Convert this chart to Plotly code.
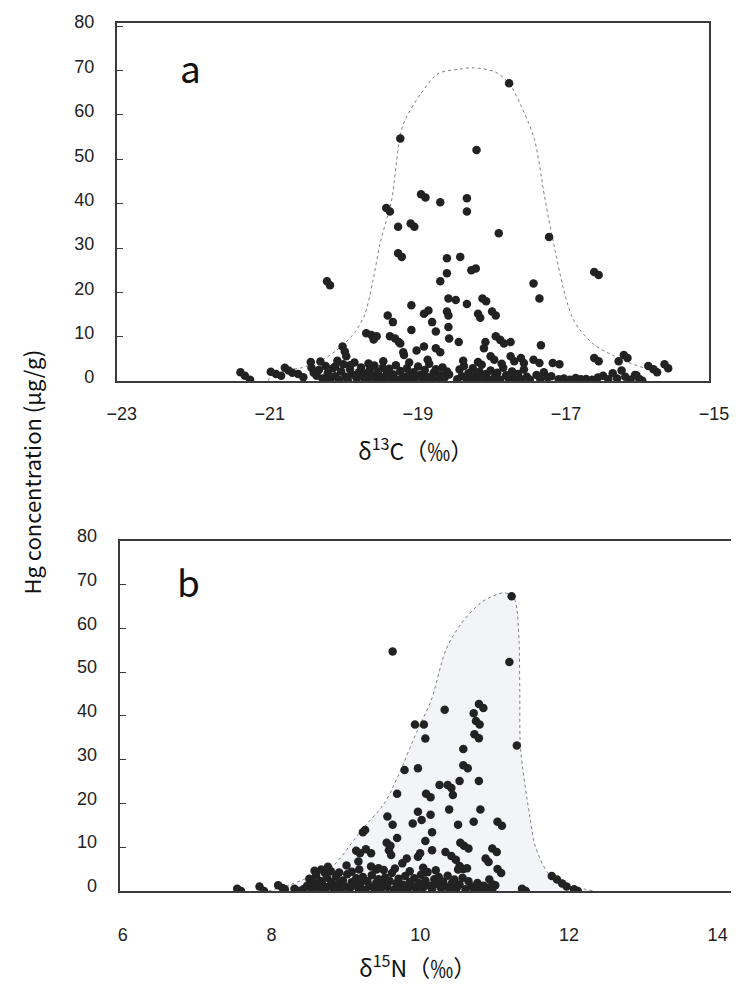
import plotly.graph_objects as go

# page body has an 8px default margin; build the figure to fill the rest
OFF = 8
W, H = 751 - OFF, 986 - OFF


def px(t):
    return (t - OFF) / W


def py(t):
    return 1 - (t - OFF) / H


# ---------------- Panel a: d13C vs Hg ----------------
a_x = [
    -17.70, -19.17, -18.14, -18.89, -18.83, -18.63, -18.27, -18.27, -19.36, -19.31,
    -19.20, -19.03, -18.98, -17.84, -17.16, -19.20, -19.15, -18.54, -18.36, -18.21,
    -18.15, -18.54, -18.63, -20.16, -20.12, -17.37, -16.55, -16.49, -17.29, -18.52,
    -18.42, -18.27, -18.06, -18.01, -19.02, -18.85, -18.79, -18.54, -18.52, -18.12,
    -18.09, -17.93, -17.88, -19.34, -19.27, -18.74, -18.52, -19.02, -18.69, -19.63,
    -19.56, -19.53, -19.49, -19.31, -19.24, -19.19, -19.17, -18.51, -18.38, -17.88,
    -17.82, -17.77, -17.68, -18.02, -18.04, -17.27, -18.85, -18.95, -19.95, -19.92,
    -19.90, -19.13, -19.12, -18.69, -18.63, -17.95, -17.90, -17.68, -17.63, -17.54,
    -17.50, -17.37, -17.29, -17.11, -17.02, -16.55, -16.49, -16.15, -16.10, -16.22,
    -15.82, -15.75, -15.70, -15.60, -15.55,
    -21.33, -21.27, -21.20, -20.92, -20.85, -20.78, -20.73, -20.68, -20.63, -20.55,
    -20.48, -20.38, -20.37, -20.34,
    -20.30, -20.27, -20.22, -20.18, -20.15, -20.12, -20.08, -20.05, -20.02, -20.00,
    -19.97, -19.94, -19.91, -19.88, -19.85, -19.82, -19.79, -19.76, -19.73, -19.70,
    -19.67, -19.64, -19.61, -19.58, -19.55, -19.52, -19.50,
    -19.47, -19.44, -19.41, -19.38, -19.35, -19.32, -19.29, -19.26, -19.23, -19.20,
    -19.17, -19.14, -19.11, -19.08, -19.05, -19.02,
    -18.99, -18.96, -18.93, -18.90, -18.87, -18.84, -18.81, -18.78, -18.75, -18.72,
    -18.69, -18.66, -18.63, -18.60, -18.57, -18.54, -18.51,
    -18.40, -18.37, -18.34, -18.31, -18.28, -18.25, -18.22, -18.19, -18.16, -18.13,
    -18.10, -18.07, -18.04, -18.01, -17.98, -17.95,
    -17.90, -17.86, -17.82, -17.78, -17.74, -17.70, -17.66, -17.62, -17.58, -17.54,
    -17.50, -17.46, -17.42,
    -17.33, -17.28, -17.23, -17.18, -17.13,
    -17.03, -16.96, -16.88, -16.80, -16.73, -16.66, -16.58, -16.50, -16.43, -16.36,
    -16.30, -16.24, -16.18, -16.13, -16.06, -16.00, -15.94,
    -20.25, -20.05, -19.85, -19.60, -19.40, -19.05, -18.80, -18.32, -18.12, -17.80,
    -15.98, -15.90,
]
a_y = [
    67.1, 54.7, 52.1, 42.1, 41.4, 40.3, 41.2, 38.2, 39.0, 38.2,
    34.8, 35.5, 34.8, 33.3, 32.5, 28.8, 28.0, 27.7, 28.0, 25.0,
    25.4, 24.3, 22.5, 22.5, 21.6, 22.0, 24.6, 23.9, 18.6, 18.6,
    18.3, 17.4, 18.6, 18.0, 17.1, 15.2, 15.9, 15.7, 14.8, 15.2,
    14.3, 15.7, 14.8, 14.8, 13.3, 13.3, 12.2, 11.5, 11.2, 10.8,
    10.4, 9.4, 10.1, 10.1, 9.6, 8.8, 8.5, 9.6, 8.8, 10.1,
    9.3, 8.5, 8.8, 8.8, 7.4, 8.1, 7.8, 6.9, 7.8, 6.7,
    5.6, 6.5, 5.9, 7.4, 6.5, 5.6, 4.8, 5.6, 4.5, 5.2,
    4.1, 4.8, 4.1, 4.1, 3.8, 5.2, 4.5, 5.9, 5.2, 4.5,
    3.4, 2.7, 2.0, 3.8, 2.9,
    2.0, 1.2, 0.3, 2.1, 1.6, 1.2, 3.0, 2.4, 1.9, 1.6,
    0.9, 4.3, 3.0, 1.9,
    1.2, 2.5, 0.6, 3.4, 1.8, 0.4, 2.9, 1.1, 4.6, 0.3,
    2.2, 3.8, 1.0, 0.2, 2.7, 1.5, 4.2, 0.6, 2.0, 3.1,
    0.9, 1.7, 0.3, 2.6, 1.2, 3.5, 0.5,
    2.1, 1.0, 3.0, 0.4, 1.8, 2.8, 0.8, 1.5, 3.6, 0.2,
    2.3, 1.1, 0.6, 2.9, 1.6, 0.3,
    2.0, 0.9, 3.3, 1.4, 0.4, 2.5, 1.0, 3.9, 0.6, 1.9,
    2.7, 0.3, 1.3, 3.1, 0.8, 2.2, 1.5,
    0.4, 2.6, 1.1, 3.4, 0.7, 1.8, 0.3, 2.9, 1.2, 0.5,
    2.1, 3.7, 0.9, 1.6, 0.3, 2.4,
    0.8, 1.9, 0.3, 3.0, 1.3, 0.5, 2.2, 0.9, 1.6, 0.4,
    2.6, 1.0, 0.3,
    1.4, 0.5, 2.0, 0.8, 1.1,
    0.4, 0.6, 0.3, 0.7, 0.4, 0.5, 0.3, 0.8, 1.2, 0.4,
    1.8, 0.6, 2.4, 1.0, 0.3, 1.4, 0.5,
    4.4, 3.3, 3.6, 4.0, 4.5, 4.2, 4.8, 4.6, 4.3, 3.9,
    1.3, 0.1,
]

# envelope of panel a (dotted outline)
env_a_x = [-20.95, -20.93, -20.68, -20.51, -20.20, -19.95, -19.78, -19.65, -19.54, -19.44,
           -19.29, -19.14, -18.90, -18.66, -18.37, -18.19, -17.89, -17.70, -17.55, -17.36,
           -17.22, -17.12, -16.96, -16.85, -16.75, -16.55, -16.31, -16.10, -15.88, -15.78]
env_a_y = [0.0, 1.0, 2.5, 3.0, 5.0, 8.1, 11.1, 15.0, 22.6, 31.3,
           40.5, 57.4, 64.6, 69.3, 70.3, 70.6, 69.7, 67.1, 62.5, 54.6,
           41.5, 32.8, 20.4, 14.5, 11.7, 8.2, 5.9, 4.3, 3.0, 2.6]

# ---------------- Panel b: d15N vs Hg ----------------
b_x = [
    11.27, 9.67, 11.24, 10.37, 10.83, 10.89, 10.76, 10.79, 10.84, 9.97,
    10.09, 10.11, 10.77, 10.83, 11.34, 10.62, 10.62, 10.68, 9.83, 10.01,
    10.57, 10.83, 10.30, 10.41, 10.46, 10.48, 9.73, 10.12, 10.18, 10.43,
    10.01, 10.85, 10.18, 9.60, 10.06, 9.94, 10.55, 10.76, 11.08, 11.14,
    9.67, 9.27, 9.30, 10.20, 9.73, 10.11, 9.59, 9.64, 10.58, 10.63,
    10.69, 10.20, 11.01, 11.07, 9.18, 9.23, 9.31, 9.38, 9.62, 9.65,
    9.86, 9.80, 10.38, 10.46, 10.52, 10.01, 10.04, 10.92, 10.96, 10.57,
    10.62, 10.55, 10.67, 11.08, 11.13, 10.97, 11.02, 8.71, 8.76, 8.84,
    9.22, 9.21, 9.38, 9.45, 9.48,
    11.81, 11.88, 11.95, 12.01, 12.11, 12.16, 11.41, 11.46,
    7.58, 7.63, 7.88, 7.94, 8.13, 8.19, 8.22, 8.35, 8.40, 8.47,
    8.52, 8.55, 8.58, 8.61, 8.64, 8.67, 8.70, 8.73, 8.76, 8.79,
    8.82, 8.85, 8.88, 8.91, 8.94, 8.97,
    9.00, 9.03, 9.06, 9.09, 9.12, 9.15, 9.18, 9.21, 9.24, 9.27,
    9.30, 9.33, 9.36, 9.39, 9.42, 9.45, 9.48,
    9.51, 9.54, 9.57, 9.60, 9.63, 9.66, 9.69, 9.72, 9.75, 9.78,
    9.81, 9.84, 9.87, 9.90, 9.93, 9.96, 9.99,
    10.02, 10.05, 10.08, 10.11, 10.14, 10.17, 10.20, 10.23, 10.26, 10.29,
    10.32, 10.35, 10.38, 10.41, 10.44, 10.47,
    10.50, 10.53, 10.57, 10.61, 10.65, 10.69, 10.73, 10.77, 10.81, 10.85,
    10.89, 10.93, 10.97, 11.01, 11.05,
    8.62, 8.80, 8.95, 9.05, 9.12, 9.55, 9.70, 9.90, 10.08, 10.25,
]
b_y = [
    67.3, 54.7, 52.3, 41.4, 42.7, 41.8, 40.6, 38.8, 38.0, 38.0,
    38.0, 34.8, 35.8, 34.9, 33.2, 32.4, 28.7, 28.0, 27.6, 28.0,
    25.1, 25.1, 24.2, 24.2, 23.5, 21.9, 22.2, 22.2, 21.4, 18.6,
    18.1, 18.6, 17.4, 17.0, 16.2, 15.4, 15.1, 15.8, 15.8, 14.9,
    15.1, 13.4, 13.9, 13.4, 12.1, 11.4, 11.0, 10.3, 11.0, 10.3,
    9.7, 9.3, 9.7, 8.9, 9.2, 8.6, 9.5, 8.6, 9.3, 8.2,
    7.4, 6.3, 8.9, 8.0, 7.1, 7.8, 8.6, 7.4, 6.6, 5.7,
    5.0, 4.9, 5.2, 5.0, 4.1, 2.6, 1.5, 4.9, 4.1, 4.5,
    4.9, 6.7, 5.6, 4.9, 5.2,
    3.4, 2.6, 1.7, 1.0, 0.4, 0.0, 0.5, 0.0,
    0.5, 0.0, 1.0, 0.0, 1.3, 0.7, 0.4, 0.5, 0.0, 0.4,
    1.2, 2.8, 0.4, 1.9, 3.6, 0.8, 2.3, 1.4, 0.2, 3.0,
    1.1, 2.0, 0.5, 3.3, 1.6, 0.3,
    2.4, 1.0, 3.8, 0.4, 2.0, 1.3, 2.9, 0.6, 1.8, 3.2,
    0.3, 2.2, 1.1, 3.6, 0.7, 1.9, 2.7,
    0.4, 1.5, 3.1, 0.9, 2.3, 4.1, 0.3, 1.7, 2.8, 0.6,
    1.4, 3.4, 0.3, 2.0, 1.1, 2.9, 0.5,
    1.8, 3.7, 0.8, 2.4, 4.3, 1.2, 0.4, 2.7, 1.6, 3.2,
    0.7, 2.1, 1.0, 3.5, 0.3, 1.9,
    2.6, 0.6, 1.5, 3.0, 0.4, 2.2, 1.0, 0.3, 1.8, 0.6,
    1.2, 0.3, 0.8, 0.4, 1.3,
    4.6, 5.5, 4.2, 5.8, 4.4, 4.8, 5.1, 4.5, 5.3, 4.7,
]

env_b_x = [8.00, 8.30, 8.60, 8.86, 9.25, 9.55, 9.75, 9.99, 10.19, 10.38,
           10.58, 10.87, 11.17, 11.30, 11.34, 11.37, 11.38, 11.39, 11.51, 11.59,
           11.76, 12.00, 12.38]
env_b_y = [0.0, 1.5, 3.5, 5.6, 13.9, 19.8, 26.5, 36.2, 43.6, 54.8,
           60.8, 66.0, 68.1, 67.0, 64.5, 57.0, 45.9, 32.4, 17.5, 10.1,
           4.1, 1.5, 0.0]

y_ticks = [0, 10, 20, 30, 40, 50, 60, 70, 80]
a_ticks = [-23, -21, -19, -17, -15]
a_ticktext = ["\u221223", "\u221221", "\u221219", "\u221217", "\u221215"]
b_ticks = [6, 8, 10, 12, 14]

dot = dict(size=8.5, color="#222222")
tickfont = dict(family="Liberation Sans, Arial", size=18, color="#222222")
jp = "Noto Sans CJK JP"
axcol = "#3a3a3a"

fig = go.Figure()
fig.add_trace(go.Scatter(x=env_a_x, y=env_a_y, mode="lines",
                         line=dict(color="#808080", width=1, dash="dot", shape="spline", smoothing=0.8),
                         xaxis="x", yaxis="y", hoverinfo="skip"))
fig.add_trace(go.Scatter(x=a_x, y=a_y, mode="markers", marker=dot, xaxis="x", yaxis="y"))
fig.add_trace(go.Scatter(x=env_b_x, y=env_b_y, mode="lines", fill="toself", fillcolor="#f3f4f7",
                         line=dict(color="#808080", width=1, dash="dot", shape="spline", smoothing=0.8),
                         xaxis="x2", yaxis="y2", hoverinfo="skip"))
fig.add_trace(go.Scatter(x=b_x, y=b_y, mode="markers", marker=dot, xaxis="x2", yaxis="y2"))

axcommon = dict(showgrid=False, zeroline=False, showline=True, linecolor=axcol, linewidth=2,
                tickfont=tickfont, ticklabeloverflow="allow")

fig.update_layout(
    width=W, height=H, showlegend=False,
    paper_bgcolor="white", plot_bgcolor="white",
    margin=dict(l=0, r=0, t=0, b=0),
    xaxis=dict(axcommon, mirror=True, domain=[px(111), px(728)], range=[-23, -15], tickvals=a_ticks,
               ticktext=a_ticktext, ticks="", anchor="y", ticklabelstandoff=15, ticklabelshift=5),
    yaxis=dict(axcommon, mirror=True, domain=[py(374), 1.0], range=[0, 80.7], tickvals=y_ticks,
               ticks="inside", ticklen=6, tickcolor=axcol, anchor="x", ticklabelstandoff=17,
               ticklabelshift=-4),
    xaxis2=dict(axcommon, mirror=True, domain=[px(114), 1.0], range=[6, 14.22], tickvals=b_ticks, ticks="",
                anchor="y2", ticklabelstandoff=26, ticklabelshift=3),
    yaxis2=dict(axcommon, mirror=False, domain=[py(895), py(537)], range=[0, 80], tickvals=y_ticks,
                ticks="inside", ticklen=6, tickcolor=axcol, anchor="x2", ticklabelstandoff=17,
                ticklabelshift=-5),
    annotations=[
        dict(text="a", x=px(188), y=py(53), xref="paper", yref="paper", showarrow=False,
             xanchor="center", yanchor="middle", font=dict(family=jp, size=37, color="#111111")),
        dict(text="b", x=px(186), y=py(578), xref="paper", yref="paper", showarrow=False,
             xanchor="center", yanchor="middle", font=dict(family=jp, size=37, color="#111111")),
        dict(text="\u03b4<sup>13</sup>C\uff08\u2030\uff09", x=px(422), y=py(443), xref="paper", yref="paper",
             xanchor="center", yanchor="middle", showarrow=False, font=dict(family=jp, size=23, color="#111111")),
        dict(text="\u03b4<sup>15</sup>N\uff08\u2030\uff09", x=px(424), y=py(972), xref="paper", yref="paper",
             xanchor="center", yanchor="middle", showarrow=False, font=dict(family=jp, size=23, color="#111111")),
        dict(text="Hg concentration (\u03bcg/g)", x=px(22), y=py(467), xref="paper", yref="paper",
             xanchor="center", yanchor="middle", showarrow=False, textangle=-90, borderpad=0,
             font=dict(family=jp, size=22, color="#111111")),
    ],
)

fig.write_html("out.html")
